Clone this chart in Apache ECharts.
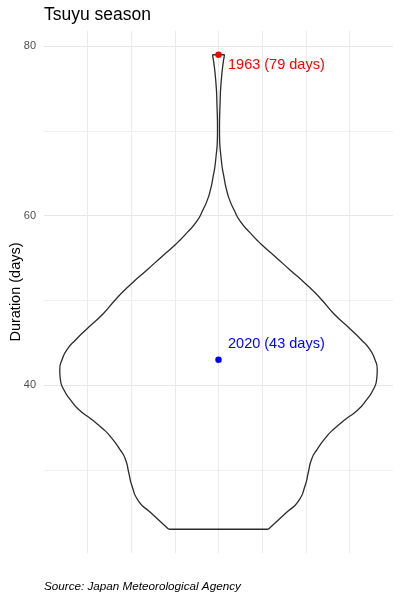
<!DOCTYPE html>
<html>
<head>
<meta charset="utf-8">
<script src="https://cdn.jsdelivr.net/npm/echarts@6/dist/echarts.min.js"></script>
<style>
html,body{margin:0;padding:0;background:#fff;}
#chart{width:400px;height:600px;}
</style>
</head>
<body>
<div id="chart"></div>
<script>
// Violin outline: duration (days) and half-width (x units, gridline spacing = 1)
const outlineDays = [23.0, 25.0, 26.3, 28.1, 29.7, 31.3, 32.4, 34.0, 34.9, 36.0, 37.1, 38.3, 39.5, 40.7, 41.9, 43.0, 44.2, 45.4, 46.6, 48.5, 50.3, 52.1, 53.6, 55.2, 56.6, 58.0, 59.3, 60.7, 61.9, 63.1, 64.2, 66.6, 70.1, 72.9, 76.0, 79.0];
const outlineHalfWidth = [1.142, 1.563, 1.829, 1.983, 2.058, 2.136, 2.258, 2.487, 2.659, 2.920, 3.198, 3.397, 3.548, 3.626, 3.638, 3.587, 3.473, 3.266, 3.026, 2.632, 2.327, 1.971, 1.639, 1.295, 0.986, 0.722, 0.504, 0.355, 0.252, 0.183, 0.138, 0.064, 0.023, 0.034, 0.064, 0.138];

// Highlighted years
const highlightYears = [1963, 2020];
const highlightDays = [79, 43];
const highlightColors = ['#ff0000', '#0000ff'];
const highlightLabelOffsetY = [10.5, -16];

// Axis tick labels
const yTickLabels = [40, 60, 80];

const FONT = '"Liberation Sans", Arial, Helvetica, sans-serif';

const dMin = Math.min(...outlineDays), dMax = Math.max(...outlineDays);
const pad = (dMax - dMin) * 0.05;
const yMin = Math.round((dMin - pad) * 10) / 10;
const yMax = Math.round((dMax + pad) * 10) / 10;

const rightSide = outlineDays.map((d, i) => [outlineHalfWidth[i], d]);
const leftSide = outlineDays.map((d, i) => [-outlineHalfWidth[i], d]);
const n = outlineDays.length - 1;
const bottomEdge = [[-outlineHalfWidth[0], outlineDays[0]], [outlineHalfWidth[0], outlineDays[0]]];
const topEdge = [[-outlineHalfWidth[n], outlineDays[n]], [outlineHalfWidth[n], outlineDays[n]]];

const lineStyle = { color: '#2b2b2b', width: 1.3 };
function outlineSeries(data, smooth) {
  return { type: 'line', data: data, smooth: smooth, symbol: 'none', lineStyle: lineStyle, silent: true, z: 2, animation: false };
}

const chart = echarts.init(document.getElementById('chart'), null, { renderer: 'canvas' });
chart.setOption({
  animation: false,
  backgroundColor: '#ffffff',
  textStyle: { fontFamily: FONT },
  title: [
    { text: 'Tsuyu season', left: 44, top: 6, padding: 0,
      textStyle: { fontFamily: FONT, fontSize: 17.5, fontWeight: 'normal', color: '#000000' } },
    { text: 'Source: Japan Meteorological Agency', left: 44, top: 581, padding: 0,
      textStyle: { fontFamily: FONT, fontSize: 11.7, fontStyle: 'italic', fontWeight: 'normal', color: '#000000' } }
  ],
  grid: { left: 44, right: 7, top: 31, bottom: 47, containLabel: false, outerBoundsMode: 'none' },
  xAxis: {
    type: 'value', min: -4, max: 4, interval: 1,
    axisLine: { show: false }, axisTick: { show: false }, axisLabel: { show: false },
    splitLine: { show: true, showMinLine: false, showMaxLine: false, lineStyle: { color: '#ebebeb', width: 1 } }
  },
  yAxis: {
    type: 'value', min: yMin, max: yMax, splitNumber: 6,
    axisLine: { show: false }, axisTick: { show: false },
    axisLabel: {
      color: '#4d4d4d', fontSize: 11, fontFamily: FONT, margin: 8,
      formatter: function (v) { return yTickLabels.indexOf(Math.round(v * 10) / 10) >= 0 ? String(v) : ''; }
    },
    splitLine: { show: true, showMinLine: false, showMaxLine: false,
      lineStyle: { color: ['#f1f1f1', '#e6e6e6'], width: 1 } },
    name: 'Duration (days)', nameLocation: 'middle', nameGap: 21, nameRotate: 90, nameMoveOverlap: false,
    nameTextStyle: { color: '#000000', fontSize: 14.5, fontFamily: FONT }
  },
  series: [
    outlineSeries(rightSide, 0.6),
    outlineSeries(leftSide, 0.6),
    outlineSeries(bottomEdge, false),
    outlineSeries(topEdge, false),
    {
      type: 'scatter', z: 5, symbolSize: 6.5, animation: false,
      itemStyle: { opacity: 1 },
      data: highlightYears.map((yr, i) => ({
        value: [0, highlightDays[i]],
        itemStyle: { color: highlightColors[i], opacity: 1 },
        label: {
          show: true, position: 'right', distance: 0, offset: [6.25, highlightLabelOffsetY[i]],
          formatter: yr + ' (' + highlightDays[i] + ' days)',
          color: highlightColors[i], opacity: 1, fontSize: 14.5, fontFamily: FONT
        }
      }))
    }
  ]
});
</script>
</body>
</html>
